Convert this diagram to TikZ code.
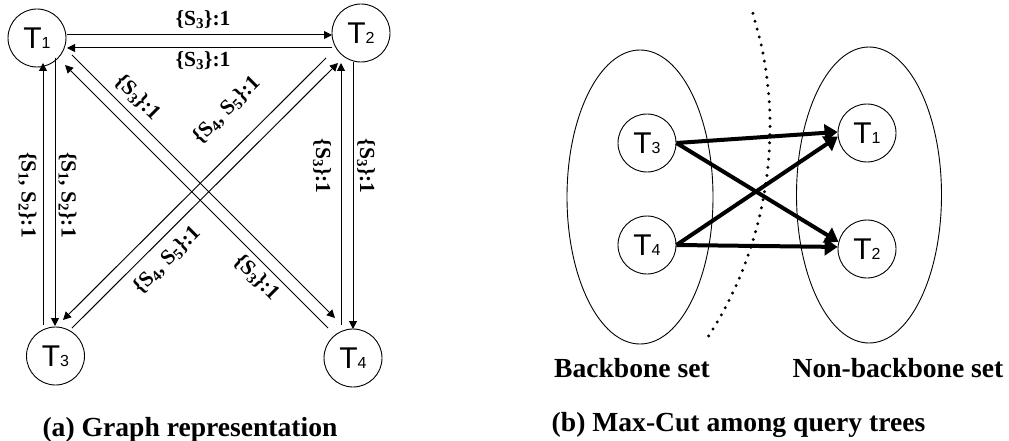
\documentclass[tikz,border=0pt]{standalone}
\usepackage{fontspec}
\setmainfont{Liberation Serif}
\newfontfamily\arialf{Liberation Sans}
\usetikzlibrary{arrows.meta,calc,shapes.geometric}
\newcommand{\TT}[1]{{\arialf\fontsize{30}{30}\selectfont T{\fontsize{16}{16}\selectfont #1}}}
\newcommand{\SL}[1]{\{S\textsubscript{#1}\}:1}
\newcommand{\SLL}[2]{\{S\textsubscript{#1}, S\textsubscript{#2}\}:1}
\tikzset{
  tn/.style={draw, circle, minimum size=58pt, inner sep=0pt, line width=0.9pt},
  edg/.style={line width=1pt, -{Triangle[length=8pt,width=8pt]}},
  lbl/.style={font=\bfseries\fontsize{21.5}{21.5}\selectfont, inner sep=0pt},
  captxt/.style={font=\bfseries\fontsize{27.6}{27.6}\selectfont, inner sep=0pt, anchor=base},
  cutarrow/.style={line width=4pt, -{Triangle[length=13pt,width=17pt]}},
  setbox/.style={draw, ellipse, inner sep=0pt, line width=0.9pt},
  cutline/.style={line width=3.3pt, line cap=round, dash pattern=on 0pt off 8.2pt}
}
\begin{document}
\begin{tikzpicture}[x=1pt,y=-1pt]
\useasboundingbox (0,0) rectangle (1009,441);
% ---------- (a) ----------
\node[tn] (T1) at (37,38) {\TT{1}};
\node[tn] (T2) at (361,33) {\TT{2}};
\node[tn] (T3) at (55.5,356) {\TT{3}};
\node[tn] (T4) at (353,358) {\TT{4}};

\draw[edg] ($(T1)+(30,-3)$) -- ($(T2)+(-29,2)$);
\draw[edg] ($(T2)+(-29,15)$) -- ($(T1)+(30,10)$);
\draw[edg] ($(T3)+(-12.5,-31)$) -- ($(T1)+(6,25)$);
\draw[edg] ($(T1)+(18,20)$) -- ($(T3)+(-0.5,-30)$);
\draw[edg] ($(T4)+(-12,-33)$) -- ($(T2)+(-20,30)$);
\draw[edg] ($(T2)+(-8,29)$) -- ($(T4)+(0,-29)$);
\draw[edg] ($(T4)+(-25,-30)$) -- ($(T1)+(28,27)$);
\draw[edg] ($(T1)+(35,17)$) -- ($(T4)+(-18,-40)$);
\draw[edg] ($(T3)+(16.5,-28)$) -- ($(T2)+(-23,30)$);
\draw[edg] ($(T2)+(-35,25)$) -- ($(T3)+(7.5,-36)$);

\node[lbl] (l12) at (203,20) {\SL{3}};
\node[lbl] (l21) at (203,61) {\SL{3}};
\node[lbl, rotate=-90] (l31) at (27.5,195) {\SLL{1}{2}};
\node[lbl, rotate=-90] (l13) at (67.5,195) {\SLL{1}{2}};
\node[lbl, rotate=-90] (l42) at (322,166) {\SL{3}};
\node[lbl, rotate=-90] (l24) at (366,166) {\SL{3}};
\node[lbl, rotate=-45] (l41) at (138,98) {\SL{3}};
\node[lbl, rotate=45] (l32) at (226.5,110) {\SLL{4}{5}};
\node[lbl, rotate=45] (l23) at (167,260) {\SLL{4}{5}};
\node[lbl, rotate=-45] (l14) at (257,278) {\SL{3}};

\node[captxt] (capa) at (190,436) {(a) Graph representation};

% ---------- (b) ----------
\node[setbox, minimum width=146pt, minimum height=294pt] (bb) at (640,197) {};
\node[setbox, minimum width=145pt, minimum height=296pt] (nb) at (869,195) {};

\node[tn] (R3) at (647,143) {\TT{3}};
\node[tn] (R4) at (647,245) {\TT{4}};
\node[tn] (R1) at (867,133) {\TT{1}};
\node[tn] (R2) at (867,249) {\TT{2}};

\draw[cutarrow] (R3.east) -- (R1.178);
\draw[cutarrow] (R3.east) -- (R2.166);
\draw[cutarrow] (R4.east) -- (R1.187);
\draw[cutarrow] (R4.east) -- (R2.176);

\draw[cutline] plot[smooth] coordinates {(752.9,13.3) (761.2,45) (765.8,70) (769.1,100) (770,127) (768.6,160) (764.8,190) (758.7,220) (749.9,250) (739.8,277) (729.2,300) (717.3,322) (705,341.7)};

\node[captxt] (bbl) at (632,377) {Backbone set};
\node[captxt] (nbl) at (898,377) {Non-backbone set};
\node[captxt] (capb) at (738.5,431) {(b) Max-Cut among query trees};
\end{tikzpicture}
\end{document}
